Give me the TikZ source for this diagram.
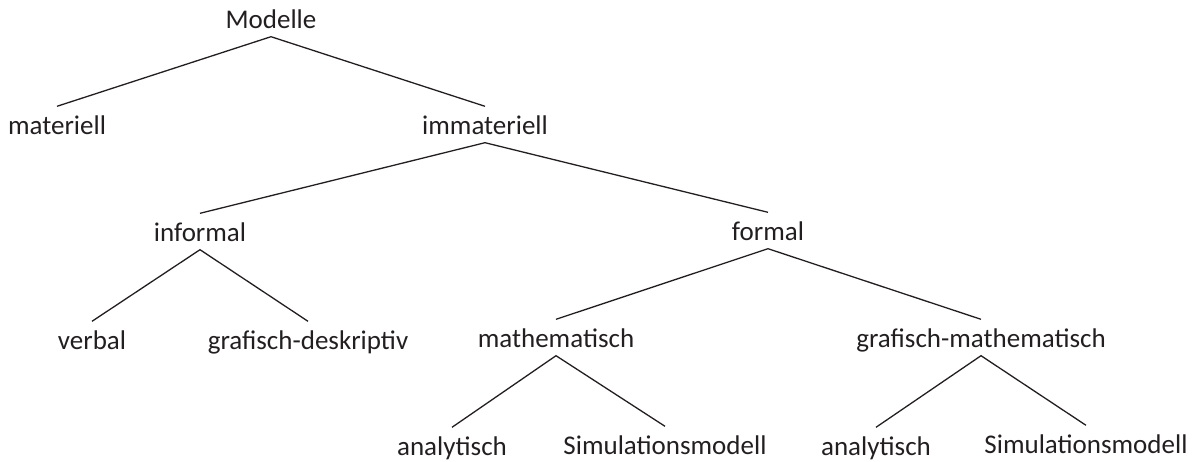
\documentclass[tikz,border=0pt]{standalone}
\usepackage{fontspec}
\setmainfont{Carlito}
\definecolor{ink}{HTML}{231F20}
\begin{document}
\begin{tikzpicture}[x=1pt,y=-1pt,
  lbl/.style={anchor=base, inner xsep=2pt, inner ysep=8.5pt,
    text height=19pt, text depth=0pt, text=ink,
    font=\fontsize{27}{32}\selectfont},
  edge/.style={draw=ink, line width=1.3pt}]
\useasboundingbox (0,0) rectangle (1202,461);

% level 0
\node[lbl] (mod)  at (271,28)  {Modelle};
% level 1
\node[lbl] (mat)  at (57,134)  {materiell};
\node[lbl] (imm)  at (485,134) {immateriell};
% level 2
\node[lbl] (inf)  at (200,241) {informal};
\node[lbl] (for)  at (768,240) {formal};
% level 3
\node[lbl] (verb) at (92,349)  {verbal};
\node[lbl] (gdes) at (308,349) {grafisch-deskriptiv};
\node[lbl] (math) at (556,347) {mathematisch};
\node[lbl] (gmat) at (981,347) {grafisch-mathematisch};
% level 4
\node[lbl] (ana1) at (452,455) {analytisch};
\node[lbl] (sim1) at (665,454) {Simulationsmodell};
\node[lbl] (ana2) at (876,455) {analytisch};
\node[lbl] (sim2) at (1086,453) {Simulationsmodell};

% branches
\draw[edge] (mat.north) -- (mod.south) -- (imm.north);
\draw[edge] (inf.north) -- (imm.south) -- (for.north);
\draw[edge] (verb.north) -- (inf.south) -- (gdes.north);
\draw[edge] (math.north) -- (for.south) -- (gmat.north);
\draw[edge] (ana1.north) -- (math.south) -- (sim1.north);
\draw[edge] (ana2.north) -- (gmat.south) -- (sim2.north);
\end{tikzpicture}
\end{document}
